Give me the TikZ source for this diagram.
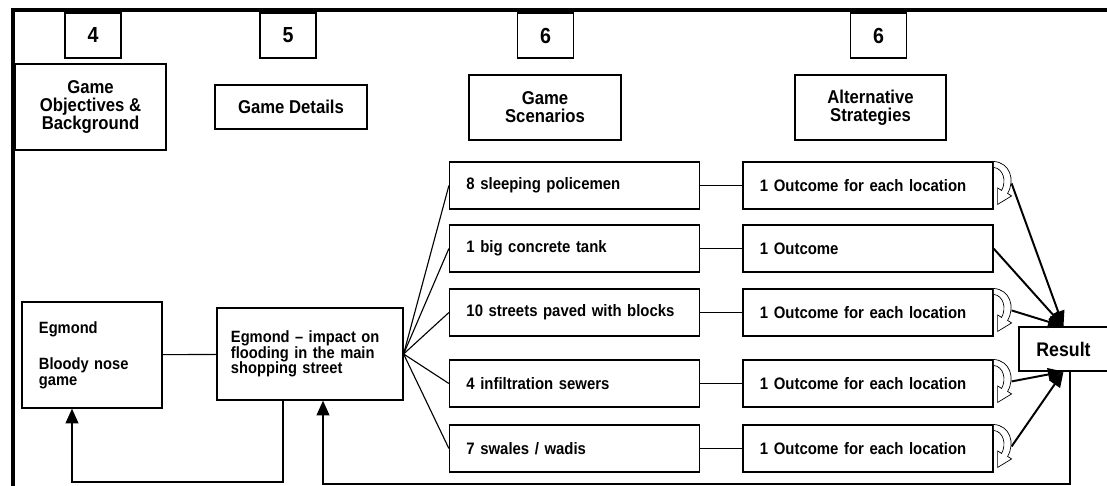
\documentclass[tikz,border=0pt]{standalone}
\usepackage{fontspec}
\setmainfont{Liberation Sans}[FakeStretch=0.9]
\usepackage{tikz}
\usetikzlibrary{arrows.meta}

\newcommand{\turnarrow}[1]{%
	\draw[line width=.5pt, fill=white, shift={(#1)}] (0,0) .. controls (16,1) and (22,18) .. (14,32) -- (18,34.5) -- (4,43) -- (4,26.5) -- (8,29) .. controls (13,20) and (10,7) .. (0,6) -- cycle;}

\begin{document}
\begin{tikzpicture}[x=0.025cm,y=-0.025cm,
		numbox/.style={shape=rectangle,draw=black,line width=.8pt,minimum width=1.4cm,minimum height=1.125cm,font=\bfseries\fontsize{15.5}{15.5}\selectfont},
		headbox/.style={shape=rectangle,draw=black,line width=.8pt,minimum width=3.8cm,align=center,font=\bfseries\fontsize{13.2}{12.9}\selectfont},
		itembox/.style={shape=rectangle,draw=black,line width=.8pt,minimum height=1.175cm,text width=5.4cm,inner xsep=0.425cm,align=left,font=\bfseries\fontsize{11.8}{11}\selectfont},
		gamebox/.style={shape=rectangle,draw=black,line width=.8pt,align=left,font=\bfseries\fontsize{11.6}{10.9}\selectfont},
		link/.style={line width=.8pt},
		feedback/.style={line width=1.4pt,-{Triangle[length=10.5pt,width=9pt]}},
		toresult/.style={line width=1.4pt,-{Triangle[length=11pt,width=9pt]}}]
			\useasboundingbox (0,0) rectangle (1107,486);

			%% frame
			\draw[line width=2.2pt] (1107,10) -- (13,10) -- (13,486);

			\node[numbox] (n4) at (93,35.5) {4};
			\node[numbox] (n5) at (288,35.5) {5};
			\node[numbox] (n6a) at (545.5,35.5) {6};
			\node[numbox] (n6b) at (878.5,35.5) {6};

			\node[headbox,minimum width=3.775cm,minimum height=2.15cm] (objectives) at (90.5,107) {Game\\Objectives \&\\Background};
			\node[headbox,minimum height=1.1cm] (details) at (291,107) {Game Details};
			\node[headbox,minimum height=1.625cm] (scenarios) at (545,107.5) {Game\\Scenarios};
			\node[headbox,minimum width=3.775cm,minimum height=1.625cm] (strategies) at (870.5,107.5) {Alternative\\Strategies};

			\node[gamebox,text width=2.65cm,inner xsep=0.425cm,minimum height=2.65cm] (game) at (92,355) {Egmond\\[15pt]Bloody nose\\game};
			\node[gamebox,text width=3.95cm,inner xsep=0.35cm,minimum height=2.3cm] (impact) at (310,354) {Egmond \textendash{} impact on\\flooding in the main\\shopping street};

			\node[itembox] (s1) at (574.5,185.5) {8 sleeping policemen};
			\node[itembox] (s2) at (574.5,248.5) {1 big concrete tank};
			\node[itembox] (s3) at (574.5,312.5) {10 streets paved with blocks};
			\node[itembox] (s4) at (574.5,383.5) {4 infiltration sewers};
			\node[itembox] (s5) at (574.5,448.5) {7 swales / wadis};

			\node[itembox] (o1) at (868,185.5) {1 Outcome for each location};
			\node[itembox] (o2) at (868,248.5) {1 Outcome};
			\node[itembox] (o3) at (868,312.5) {1 Outcome for each location};
			\node[itembox] (o4) at (868,383.5) {1 Outcome for each location};
			\node[itembox] (o5) at (868,448.5) {1 Outcome for each location};

			\node[shape=rectangle,draw=black,line width=.8pt,minimum width=2.225cm,minimum height=1.1cm,font=\bfseries\fontsize{14}{14}\selectfont] (result) at (1063.5,349) {Result};

			\coordinate (t1) at ([shift={(18,22)}]o1.north east);
			\coordinate (t3) at ([shift={(18,22)}]o3.north east);
			\coordinate (t4) at ([shift={(18,22)}]o4.north east);
			\coordinate (t5) at ([shift={(18,22)}]o5.north east);

			%% lines
			\draw[link] (game) -- (impact);
			\foreach \i in {1,...,5} {
				\draw[link] (impact.east) -- (s\i.west);
				\draw[link] (s\i.east) -- (o\i.west);
			}
			\draw[toresult] (t1) -- (result.north);
			\draw[toresult] (o2.east) -- (result.north);
			\draw[toresult] (t3) -- (result.north);
			\draw[toresult] (t4) -- (result.south);
			\draw[toresult] (t5) -- (result.south);

			\turnarrow{o1.north east}
			\turnarrow{o3.north east}
			\turnarrow{o4.north east}
			\turnarrow{o5.north east}

			%% feedback
			\draw[feedback] ([xshift=-0.675cm]impact.south) -- ++(0,81) -| ([xshift=-0.5cm]game.south);
			\draw[feedback] ([xshift=0.1625cm]result.south) -- ++(0,112) -| ([xshift=0.325cm]impact.south);
		\end{tikzpicture}
\end{document}
